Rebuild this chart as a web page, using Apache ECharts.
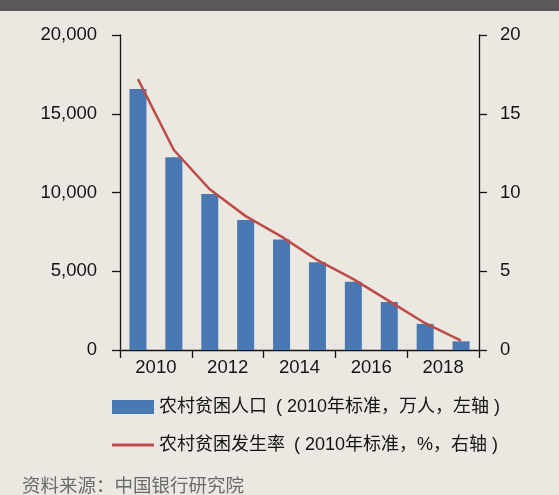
<!DOCTYPE html>
<html>
<head>
<meta charset="utf-8">
<script src="https://cdn.jsdelivr.net/npm/echarts@6/dist/echarts.min.js"></script>
<style>
  html, body { margin: 0; padding: 0; background: #ebe8e2; }
  #chart { width: 559px; height: 495px; }
</style>
</head>
<body>
<div id="chart"></div>
<script>
// 数据
const years = ['2010', '2011', '2012', '2013', '2014', '2015', '2016', '2017', '2018', '2019']
const tickLabels = ['2010', '2012', '2014', '2016', '2018']
const poorPopulation = [16567, 12238, 9899, 8249, 7017, 5575, 4335, 3046, 1660, 551]
const povertyRate = [17.2, 12.7, 10.2, 8.5, 7.2, 5.7, 4.5, 3.1, 1.7, 0.6]

const barName = '农村贫困人口\u2002( 2010年标准，万人，左轴 )'
const lineName = '农村贫困发生率\u2002( 2010年标准，%，右轴 )'

const font = '"Liberation Sans", Arial, "Noto Sans CJK SC", sans-serif'
const ink = '#141414'

const chart = echarts.init(document.getElementById('chart'), null, { renderer: 'canvas' })

const yAxisBase = {
  type: 'value',
  min: 0,
  interval: 5000,
  axisLine: { show: true, lineStyle: { color: ink, width: 1.3 } },
  axisTick: { show: true, inside: false, length: 8, lineStyle: { color: ink, width: 1.3 } },
  splitLine: { show: false },
  axisLabel: { color: ink, fontSize: 18.5, fontFamily: font }
}

const legendText = { color: ink, fontSize: 18, lineHeight: 20, fontFamily: font }

chart.setOption({
  backgroundColor: '#ebe8e2',
  animation: false,
  textStyle: { fontFamily: font },
  grid: { left: 120, right: 80, top: 35, bottom: 145, containLabel: false },
  xAxis: [
    {
      type: 'category',
      data: years,
      show: false
    },
    {
      // 每两年一个刻度，标签居中
      type: 'category',
      data: tickLabels,
      position: 'bottom',
      boundaryGap: true,
      axisLine: { show: true, lineStyle: { color: ink, width: 1.3 } },
      axisTick: { show: true, inside: false, length: 8, alignWithLabel: false, lineStyle: { color: ink, width: 1.3 } },
      axisLabel: { color: ink, fontSize: 18.5, fontFamily: font, margin: 9 },
      splitLine: { show: false }
    }
  ],
  yAxis: [
    Object.assign({}, yAxisBase, {
      max: 20000,
      position: 'left',
      axisLabel: Object.assign({}, yAxisBase.axisLabel, {
        margin: 23,
        formatter: v => v.toLocaleString('en-US')
      })
    }),
    Object.assign({}, yAxisBase, {
      max: 20,
      interval: 5,
      position: 'right',
      axisLabel: Object.assign({}, yAxisBase.axisLabel, { margin: 21 })
    })
  ],
  legend: [
    {
      data: [{ name: barName, icon: 'rect' }],
      left: 107,
      top: 392,
      itemWidth: 42,
      itemHeight: 14,
      selectedMode: false,
      textStyle: legendText
    },
    {
      data: [{ name: lineName, icon: 'rect' }],
      left: 107,
      top: 430,
      itemWidth: 42,
      itemHeight: 3,
      selectedMode: false,
      textStyle: legendText
    }
  ],
  graphic: [
    {
      type: 'rect',
      left: 0,
      top: 0,
      shape: { width: 559, height: 11 },
      style: { fill: '#5a5858' }
    },
    {
      type: 'text',
      left: 22,
      top: 476,
      style: {
        text: '资料来源：中国银行研究院',
        fill: '#6a6a6a',
        fontSize: 18.5,
        fontFamily: '"Noto Sans CJK SC", sans-serif'
      }
    }
  ],
  series: [
    {
      name: barName,
      type: 'bar',
      xAxisIndex: 0,
      yAxisIndex: 0,
      data: poorPopulation,
      barWidth: 17,
      itemStyle: { color: '#4a78b3' }
    },
    {
      name: lineName,
      type: 'line',
      xAxisIndex: 0,
      yAxisIndex: 1,
      data: povertyRate,
      symbol: 'none',
      lineStyle: { color: '#be4b47', width: 2.5 },
      itemStyle: { color: '#be4b47' }
    }
  ]
})
</script>
</body>
</html>
